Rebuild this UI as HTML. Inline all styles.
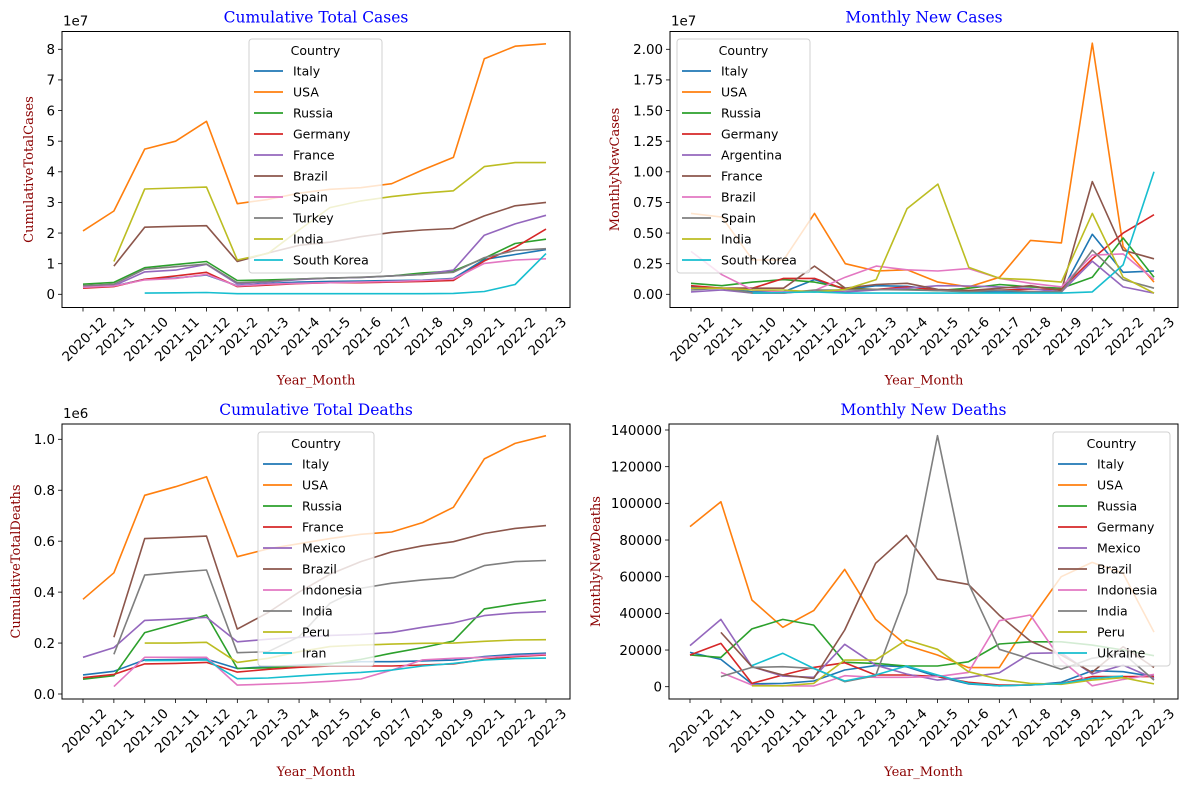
<!DOCTYPE html>
<html><head><meta charset="utf-8"><style>
html,body{margin:0;padding:0;background:#fff;}
svg{display:block;font-family:"DejaVu Sans","Liberation Sans",sans-serif;}
</style></head><body>
<svg id="fig" width="1187" height="790" viewBox="0 0 1187 790"></svg>
<script>
const categories=["2020-12","2021-1","2021-10","2021-11","2021-12","2021-2","2021-3","2021-4","2021-5","2021-6","2021-7","2021-8","2021-9","2022-1","2022-2","2022-3"];
const colors=["#1f77b4","#ff7f0e","#2ca02c","#d62728","#9467bd","#8c564b","#e377c2","#7f7f7f","#bcbd22","#17becf"];
const _=null;
// Panel 1: cumulative total cases (units 1e7)
const p1Names=["Italy","USA","Russia","Germany","France","Brazil","Spain","Turkey","India","South Korea"];
const p1Italy=[0.24,0.27,0.49,0.53,0.63,0.28,0.35,0.4,0.42,0.43,0.45,0.46,0.52,1.14,1.3,1.46];
const p1USA=[2.07,2.72,4.74,5.0,5.65,2.96,3.1,3.3,3.43,3.48,3.61,4.06,4.47,7.69,8.1,8.18];
const p1Russia=[0.33,0.39,0.87,0.97,1.07,0.45,0.47,0.5,0.53,0.55,0.6,0.7,0.76,1.18,1.66,1.8];
const p1Germany=[0.2,0.25,0.49,0.6,0.72,0.25,0.3,0.35,0.38,0.38,0.4,0.42,0.45,1.09,1.53,2.13];
const p1France=[0.25,0.28,0.73,0.79,0.98,0.34,0.4,0.48,0.53,0.55,0.6,0.65,0.79,1.93,2.3,2.58];
const p1Brazil=[_,0.92,2.19,2.22,2.24,1.07,1.35,1.6,1.7,1.88,2.02,2.1,2.15,2.56,2.89,3.0];
const p1Spain=[0.23,0.27,0.47,0.52,0.65,0.27,0.33,0.36,0.38,0.4,0.42,0.45,0.5,1.01,1.12,1.16];
const p1Turkey=[0.28,0.33,0.82,0.9,0.99,0.38,0.42,0.5,0.53,0.56,0.6,0.65,0.72,1.2,1.43,1.49];
const p1India=[_,1.07,3.44,3.47,3.5,1.12,1.34,2.1,2.83,3.05,3.19,3.3,3.38,4.17,4.3,4.3];
const p1Korea=[_,_,0.04,0.05,0.06,0.02,0.02,0.02,0.02,0.02,0.02,0.02,0.03,0.09,0.32,1.33];
const p1Ticks=[0,1,2,3,4,5,6,7,8];
// Panel 2: monthly new cases (units 1e7)
const p2Names=["Italy","USA","Russia","Germany","Argentina","France","Brazil","Spain","India","South Korea"];
const p2Italy=[0.06,0.05,0.02,0.02,0.12,0.04,0.07,0.065,0.035,0.02,0.02,0.02,0.02,0.49,0.18,0.19];
const p2USA=[0.66,0.63,0.28,0.28,0.66,0.25,0.19,0.2,0.1,0.06,0.14,0.44,0.42,2.05,0.39,0.1];
const p2Russia=[0.09,0.07,0.1,0.12,0.1,0.05,0.04,0.04,0.03,0.05,0.08,0.06,0.05,0.14,0.46,0.14];
const p2Germany=[0.07,0.05,0.05,0.13,0.13,0.04,0.04,0.06,0.035,0.03,0.035,0.04,0.04,0.29,0.5,0.65];
const p2Argentina=[0.02,0.035,0.01,0.01,0.03,0.02,0.035,0.05,0.07,0.068,0.06,0.045,0.02,0.27,0.06,0.01];
const p2France=[0.05,0.05,0.05,0.05,0.23,0.05,0.08,0.09,0.04,0.03,0.05,0.07,0.03,0.92,0.36,0.29];
const p2Brazil=[0.35,0.16,0.035,0.02,0.03,0.14,0.23,0.2,0.19,0.21,0.13,0.09,0.06,0.32,0.33,0.12];
const p2Spain=[0.035,0.05,0.01,0.01,0.035,0.035,0.04,0.035,0.03,0.02,0.035,0.02,0.02,0.36,0.12,0.05];
const p2India=[0.05,0.05,0.035,0.035,0.02,0.04,0.12,0.7,0.9,0.22,0.13,0.12,0.1,0.66,0.14,0.01];
const p2Korea=[_,_,0.01,0.015,0.02,0.01,0.01,0.01,0.01,0.01,0.01,0.01,0.01,0.02,0.24,1.0];
const p2Ticks=[0,0.25,0.5,0.75,1.0,1.25,1.5,1.75,2.0];
// Panel 3: cumulative total deaths (units 1e6)
const p3Names=["Italy","USA","Russia","France","Mexico","Brazil","Indonesia","India","Peru","Iran"];
const p3Italy=[0.075,0.089,0.134,0.135,0.137,0.1,0.107,0.113,0.12,0.127,0.127,0.13,0.133,0.147,0.156,0.16];
const p3USA=[0.372,0.476,0.78,0.814,0.853,0.539,0.57,0.59,0.61,0.627,0.636,0.673,0.733,0.923,0.984,1.014];
const p3Russia=[0.058,0.072,0.241,0.275,0.31,0.1,0.103,0.11,0.118,0.136,0.16,0.182,0.208,0.334,0.353,0.369];
const p3France=[0.064,0.077,0.118,0.12,0.124,0.086,0.097,0.105,0.11,0.11,0.11,0.114,0.118,0.136,0.147,0.153];
const p3Mexico=[0.144,0.182,0.289,0.294,0.301,0.205,0.215,0.222,0.23,0.234,0.242,0.262,0.279,0.308,0.319,0.323];
const p3Brazil=[_,0.223,0.61,0.615,0.62,0.255,0.32,0.4,0.47,0.52,0.558,0.582,0.598,0.63,0.65,0.661];
const p3Indonesia=[_,0.029,0.144,0.144,0.144,0.035,0.039,0.043,0.05,0.059,0.094,0.134,0.14,0.144,0.15,0.156];
const p3India=[_,0.156,0.467,0.478,0.487,0.162,0.166,0.225,0.356,0.415,0.435,0.448,0.457,0.504,0.52,0.524];
const p3Peru=[_,_,0.2,0.2,0.203,0.124,0.14,0.166,0.186,0.192,0.196,0.199,0.2,0.207,0.212,0.213];
const p3Iran=[_,_,0.131,0.132,0.134,0.06,0.063,0.071,0.079,0.085,0.094,0.11,0.12,0.134,0.139,0.141];
const p3Ticks=[0,0.2,0.4,0.6,0.8,1.0];
// Panel 4: monthly new deaths
const p4Names=["Italy","USA","Russia","Germany","Mexico","Brazil","Indonesia","India","Peru","Ukraine"];
const p4Italy=[18700,14900,1500,1800,3100,9100,11500,10900,5500,1500,500,900,2400,8700,8200,5500];
const p4USA=[87300,100900,47300,32400,41500,64000,36700,22500,17300,10400,10400,36400,60000,67800,61800,29800];
const p4Russia=[17300,16000,31500,36700,33600,13300,12700,11300,11300,13600,23300,24500,24500,22700,20000,16900];
const p4Germany=[17300,23600,1800,6400,10500,13100,6400,6400,5500,2400,900,900,1800,5500,5500,5500];
const p4Mexico=[22400,36700,10900,5800,5100,23100,11800,6900,3600,5100,7600,18200,18500,6900,11800,4500];
const p4Brazil=[_,29600,10900,6400,4500,30900,67300,82500,58700,55800,39000,24900,17300,7800,21800,10500];
const p4Indonesia=[_,7800,900,500,400,6000,5100,5100,5500,7800,36000,39100,14500,500,4000,6700];
const p4India=[_,5500,10500,10900,10000,2700,6000,50900,136900,56400,20400,15100,9500,15500,18200,3600];
const p4Peru=[_,_,500,500,1800,14500,14500,25500,20400,8200,4000,1800,1300,3600,4900,1500];
const p4Ukraine=[_,_,11500,18200,10000,3100,6400,11300,6400,1800,500,900,1800,4500,5800,_];
const p4Ticks=[0,20000,40000,60000,80000,100000,120000,140000];

const NS="http://www.w3.org/2000/svg";
const svg=document.getElementById('fig');
const TF=13.4;
function mk(tag,attrs,parent){const e=document.createElementNS(NS,tag);for(const k in attrs)e.setAttribute(k,attrs[k]);(parent||svg).appendChild(e);return e;}

function panel(o){
  const g=mk('g',{});
  
  
  const L=o.box[0],T=o.box[1],R=o.box[2],B=o.box[3];
  const x0=L+21,x1=R-24;
  const xs=i=>x0+(x1-x0)*i/(categories.length-1);
  const ys=v=>o.y0px+(o.y1px-o.y0px)*(v-o.ymin)/(o.ymax-o.ymin);
  const series=o.series;
  series.forEach((s,si)=>{
    let d='';let pen=false;
    s.forEach((v,i)=>{if(v===null){pen=false;return;}d+=(pen?'L':'M')+xs(i).toFixed(1)+' '+ys(v).toFixed(1);pen=true;});
    const p=mk('path',{d:d,fill:'none',stroke:colors[si],'stroke-width':1.6,'stroke-linejoin':'round'},g);
    
    
  });
  const fr=mk('rect',{x:L,y:T,width:R-L,height:B-T,fill:'none',stroke:'#000','stroke-width':1},g);
  
  
  categories.forEach((c,i)=>{
    const x=xs(i);
    mk('line',{x1:x,y1:B,x2:x,y2:B+4,stroke:'#000','stroke-width':0.8},g);
    const t=mk('text',{x:0,y:0,'font-size':TF,fill:'#000','text-anchor':'middle','dominant-baseline':'central'},g);
    t.textContent=c;
    
    
    const w=t.getComputedTextLength();
    const cy=B+8+(w+TF)*0.707/2;
    t.setAttribute('transform','translate('+(x+2)+','+cy+') rotate(-45)');
  });
  o.ticks.forEach((v,i)=>{
    const y=ys(v);
    mk('line',{x1:L-4,y1:y,x2:L,y2:y,stroke:'#000','stroke-width':0.8},g);
    const t=mk('text',{x:L-7,y:y+4.8,'font-size':TF,fill:'#000','text-anchor':'end'},g);
    t.textContent=o.fmt(v);
    
    
  });
  if(o.offset){const t=mk('text',{x:L+1,y:T-6,'font-size':TF,fill:'#000'},g);t.textContent=o.offset;
    
    }
  const ti=mk('text',{x:(L+R)/2,y:T-9,'font-size':15.5,fill:'#0000ff','text-anchor':'middle','font-family':'"DejaVu Serif","Liberation Serif",serif'},g);
  ti.textContent=o.title;
  
  
  const xl=mk('text',{x:(L+R)/2,y:B+77,'font-size':13,fill:'#8b0000','text-anchor':'middle','font-family':'"DejaVu Serif","Liberation Serif",serif'},g);
  xl.textContent='Year_Month';
  
  
  const yl=mk('text',{x:0,y:0,'font-size':13,fill:'#8b0000','text-anchor':'middle','font-family':'"DejaVu Serif","Liberation Serif",serif',transform:'translate('+o.ylx+','+(T+B)/2+') rotate(-90)'},g);
  yl.textContent=o.ylabel;
  
  
  const lg=mk('g',{},g);
  
  
  const lx=o.leg[0],ly=o.leg[1],lw=o.leg[2];
  mk('rect',{x:lx,y:ly,width:lw,height:234,rx:3,fill:'#fff','fill-opacity':0.8,stroke:'#d0d0d0','stroke-width':1},lg);
  const lt=mk('text',{x:lx+lw/2,y:ly+16,'font-size':12.5,fill:'#000','text-anchor':'middle'},lg);
  lt.textContent='Country';
  o.names.forEach((n,i)=>{
    const yy=ly+32+i*21;
    const e=mk('g',{},lg);
    
    
    mk('line',{x1:lx+5,y1:yy,x2:lx+34,y2:yy,stroke:colors[i],'stroke-width':1.8},e);
    const t=mk('text',{x:lx+44,y:yy+4.5,'font-size':12.5,fill:'#000'},e);
    t.textContent=n;
  });
}
const fmtInt=v=>String(v);
panel({id:'panel-cumulative-total-cases',box:[62,31.5,570,307.5],y0px:294.3,y1px:49.3,ymin:0,ymax:8,ticks:p1Ticks,fmt:fmtInt,offset:'1e7',
  title:'Cumulative Total Cases',ylabel:'CumulativeTotalCases',ylx:33,names:p1Names,leg:[249,39,133],
  series:[p1Italy,p1USA,p1Russia,p1Germany,p1France,p1Brazil,p1Spain,p1Turkey,p1India,p1Korea]});
panel({id:'panel-monthly-new-cases',box:[670,31.5,1178,307.5],y0px:294.3,y1px:49.3,ymin:0,ymax:2,ticks:p2Ticks,fmt:v=>v.toFixed(2),offset:'1e7',
  title:'Monthly New Cases',ylabel:'MonthlyNewCases',ylx:619,names:p2Names,leg:[677,39,133],
  series:[p2Italy,p2USA,p2Russia,p2Germany,p2Argentina,p2France,p2Brazil,p2Spain,p2India,p2Korea]});
panel({id:'panel-cumulative-total-deaths',box:[62,424,570,699],y0px:694,y1px:439.3,ymin:0,ymax:1,ticks:p3Ticks,fmt:v=>v.toFixed(1),offset:'1e6',
  title:'Cumulative Total Deaths',ylabel:'CumulativeTotalDeaths',ylx:20,names:p3Names,leg:[258,432,116],
  series:[p3Italy,p3USA,p3Russia,p3France,p3Mexico,p3Brazil,p3Indonesia,p3India,p3Peru,p3Iran]});
panel({id:'panel-monthly-new-deaths',box:[669,424,1178,699],y0px:686.7,y1px:430,ymin:0,ymax:140000,ticks:p4Ticks,fmt:fmtInt,offset:null,
  title:'Monthly New Deaths',ylabel:'MonthlyNewDeaths',ylx:600,names:p4Names,leg:[1053,432,117],
  series:[p4Italy,p4USA,p4Russia,p4Germany,p4Mexico,p4Brazil,p4Indonesia,p4India,p4Peru,p4Ukraine]});
</script>
</body></html>
